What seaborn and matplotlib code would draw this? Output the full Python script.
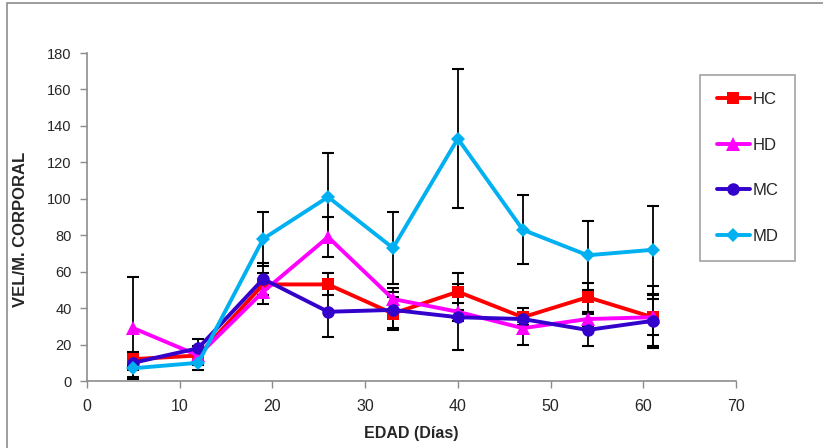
import matplotlib
matplotlib.use("Agg")
import matplotlib.pyplot as plt
from matplotlib import font_manager
from matplotlib.patches import Rectangle
import seaborn as sns
import pandas as pd

# Age in days at each measurement
edad = [5, 12, 19, 26, 33, 40, 47, 54, 61]

# Group means
hc = [12, 14, 53, 53, 37, 49, 35, 46, 35]
hd = [29, 14, 49, 79, 45, 38, 29, 34, 35]
mc = [10, 18, 56, 38, 39, 35, 34, 28, 33]
md = [7, 10, 78, 101, 73, 133, 83, 69, 72]

# Error bar half-widths
hc_err = [4, 3, 6, 6, 9, 10, 5, 8, 10]
hd_err = [28, 5, 7, 11, 6, 5, 9, 4, 17]
mc_err = [4, 5, 9, 14, 10, 18, 3, 9, 14]
md_err = [5, 4, 15, 24, 20, 38, 19, 19, 24]

groups = ["HC", "HD", "MC", "MD"]
means = [hc, hd, mc, md]
errs = [hc_err, hd_err, mc_err, md_err]

colors = {"HC": "#FF0000", "HD": "#FF00FF", "MC": "#3300CC", "MD": "#00B0F0"}
markers = {"HC": "s", "HD": "^", "MC": "o", "MD": "D"}
msizes = {"HC": 9, "HD": 9.5, "MC": 9, "MD": 7.5}

names = {f.name for f in font_manager.fontManager.ttflist}
narrow = "Liberation Sans Narrow" if "Liberation Sans Narrow" in names else "Liberation Sans"

sns.set_theme(style="white")
plt.rcParams["font.family"] = ["Liberation Sans", "DejaVu Sans"]

fig = plt.figure(figsize=(8.23, 4.48), dpi=100)
ax = fig.add_axes([87 / 823, 1 - 381 / 448, (736 - 87) / 823, (381 - 53) / 448])

# Outer chart border (top and left edges visible)
fig.add_artist(Rectangle((7 / 823, -0.1), 1.2, 1 - 3 / 448 + 0.1,
                         transform=fig.transFigure, fill=False,
                         edgecolor="#8c8c8c", linewidth=1.2))

df = pd.DataFrame({
    "edad": edad * len(groups),
    "valor": sum(means, []),
    "grupo": sum([[g] * len(edad) for g in groups], []),
})

for g, m, e in zip(groups, means, errs):
    ax.errorbar(edad, m, yerr=e, fmt="none", ecolor="black",
                elinewidth=1.3, capsize=4, capthick=1.5, zorder=2)

for g in groups:
    sub = df[df["grupo"] == g]
    sns.lineplot(data=sub, x="edad", y="valor", ax=ax, color=colors[g],
                 marker=markers[g], markersize=msizes[g], markeredgewidth=0,
                 linewidth=2.8, label=g, zorder=3)

ax.set_xlim(0, 70)
ax.set_ylim(0, 180)
ax.set_xticks(range(0, 71, 10))
ax.set_yticks(range(0, 181, 20))

for s in ["top", "right"]:
    ax.spines[s].set_visible(False)
for s in ["left", "bottom"]:
    ax.spines[s].set_color("#8c8c8c")
    ax.spines[s].set_linewidth(1.2)

ax.tick_params(axis="both", which="major", direction="out", length=5,
               width=1, color="#8c8c8c", left=True, bottom=True)
ax.tick_params(axis="y", pad=6)
ax.tick_params(axis="x", pad=8)
for lab in ax.get_yticklabels():
    lab.set_fontfamily(narrow)
    lab.set_fontsize(10.5)
for lab in ax.get_xticklabels():
    lab.set_fontfamily(narrow)
    lab.set_fontsize(11.5)

ax.set_xlabel("")
ax.set_ylabel("")
fig.text((87 + 736) / 2 / 823, 1 - 433 / 448, "EDAD (Días)", ha="center",
         va="center", fontsize=11.5, fontweight="bold", fontfamily=narrow)
fig.text(21 / 823, 1 - 229 / 448, "VEL/M. CORPORAL", ha="center", va="center",
         rotation=90, fontsize=12, fontweight="bold")

leg = ax.legend(loc="upper left", bbox_to_anchor=((700 - 87) / 649, (381 - 75) / 328),
                frameon=True, fancybox=False, edgecolor="#8c8c8c",
                handlelength=2.0, labelspacing=1.85, borderpad=1.0,
                handletextpad=0.15, borderaxespad=0,
                prop={"family": narrow, "size": 12})
leg.get_frame().set_linewidth(1.2)

fig.savefig("out.png", dpi=100)
